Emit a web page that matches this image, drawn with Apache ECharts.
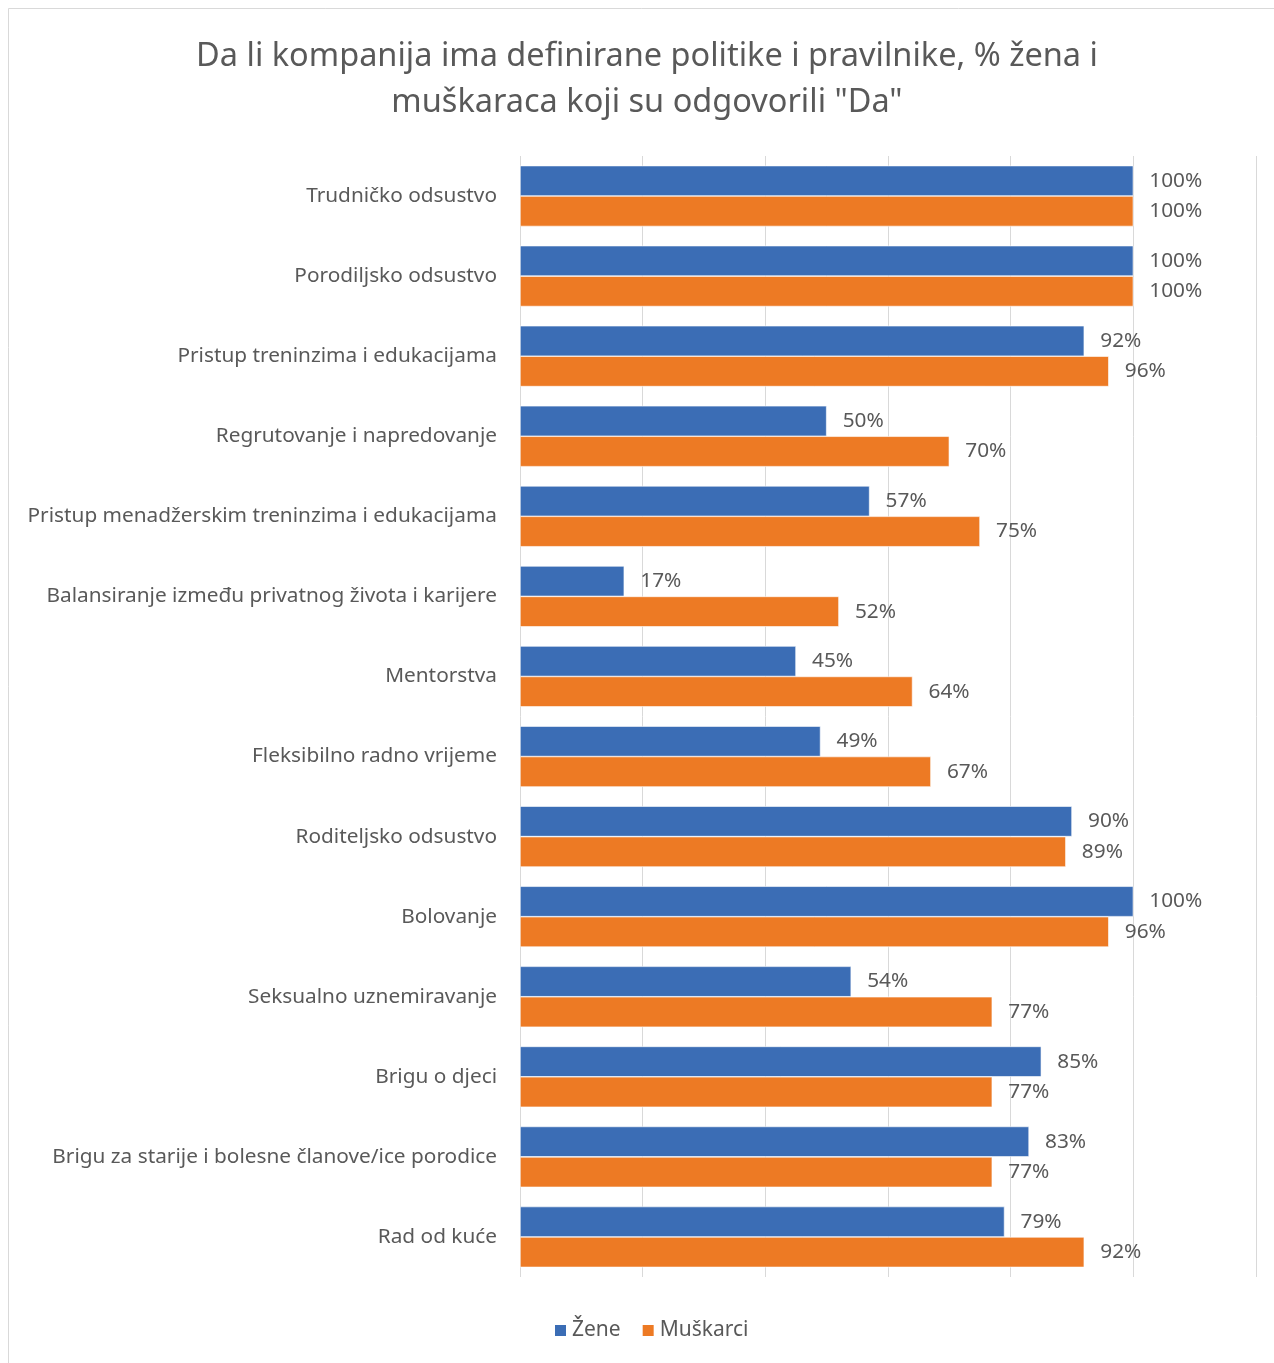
<!DOCTYPE html>
<html>
<head>
<meta charset="utf-8">
<script src="https://cdn.jsdelivr.net/npm/echarts@6/dist/echarts.min.js"></script>
<style>
  html, body { margin: 0; padding: 0; background: #fff; }
  #chart { width: 1274px; height: 1363px; }
</style>
</head>
<body>
<div id="chart"></div>
<script>
// Policy categories (top to bottom)
const categories = [
  'Trudničko odsustvo',
  'Porodiljsko odsustvo',
  'Pristup treninzima i edukacijama',
  'Regrutovanje i napredovanje',
  'Pristup menadžerskim treninzima i edukacijama',
  'Balansiranje između privatnog života i karijere',
  'Mentorstva',
  'Fleksibilno radno vrijeme',
  'Roditeljsko odsustvo',
  'Bolovanje',
  'Seksualno uznemiravanje',
  'Brigu o djeci',
  'Brigu za starije i bolesne članove/ice porodice',
  'Rad od kuće'
];
// Share answering "Da", in percent
const zene =     [100, 100, 92, 50, 57, 17, 45, 49, 90, 100, 54, 85, 83, 79];
const muskarci = [100, 100, 96, 70, 75, 52, 64, 67, 89,  96, 77, 77, 77, 92];

const seriesNames = ['Žene', 'Muškarci'];
const titleText = 'Da li kompanija ima definirane politike i pravilnike, % žena i\nmuškaraca koji su odgovorili "Da"';

const font = 'Noto Sans';
const textColor = '#595959';

const chart = echarts.init(document.getElementById('chart'));

function barSeries(name, values, color) {
  return {
    name: name,
    type: 'bar',
    data: values,
    barGap: '0%',
    barCategoryGap: '24%',
    itemStyle: { color: color, borderColor: '#ffffff', borderWidth: 0.6 },
    label: {
      show: true,
      position: 'right',
      distance: 16,
      formatter: '{c}%',
      color: textColor,
      fontFamily: font,
      fontSize: 20.8
    }
  };
}

chart.setOption({
  backgroundColor: '#ffffff',
  animation: false,
  graphic: [
    {
      type: 'rect',
      shape: { x: 8.5, y: 8.5, width: 1290, height: 1400 },
      style: { fill: 'none', stroke: '#d9d9d9', lineWidth: 1 },
      silent: true
    },
    {
      // chart title, centred over the plot
      type: 'text',
      x: 647,
      y: 34,
      silent: true,
      style: {
        text: titleText,
        align: 'center',
        verticalAlign: 'top',
        fontFamily: font,
        fontSize: 32.5,
        lineHeight: 46,
        fill: textColor
      }
    }
  ],
  legend: {
    data: seriesNames,
    bottom: 17,
    left: 548,
    itemWidth: 13,
    itemHeight: 13,
    itemGap: 20,
    icon: 'rect',
    textStyle: { fontFamily: font, fontSize: 21, color: textColor }
  },
  grid: {
    left: 520,
    right: 18,
    top: 156,
    bottom: 86,
    containLabel: false
  },
  xAxis: {
    type: 'value',
    min: 0,
    max: 120,
    interval: 20,
    axisLabel: { show: false },
    axisLine: { show: false },
    axisTick: { show: false },
    splitLine: { show: true, lineStyle: { color: '#d9d9d9', width: 1 } }
  },
  yAxis: {
    type: 'category',
    data: categories,
    inverse: true,
    axisLine: { show: false },
    axisTick: { show: false },
    axisLabel: {
      margin: 23,
      color: textColor,
      fontFamily: font,
      fontSize: 20.8
    }
  },
  series: [
    barSeries(seriesNames[0], zene, '#3B6DB5'),
    barSeries(seriesNames[1], muskarci, '#ED7A24')
  ]
});
</script>
</body>
</html>
